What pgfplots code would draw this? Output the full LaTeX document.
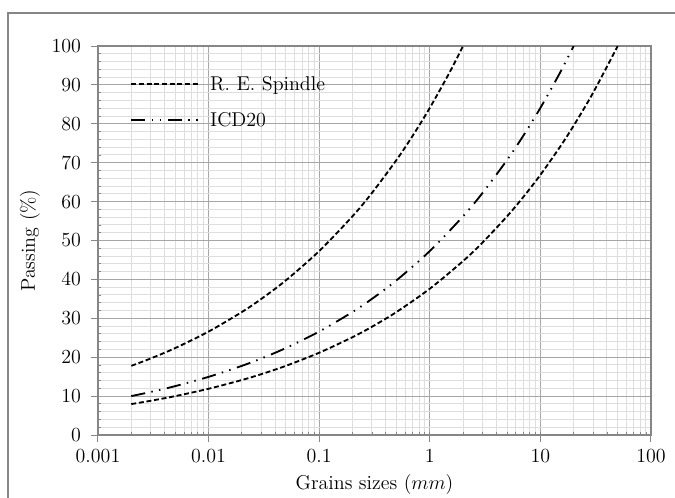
\documentclass[border=0pt]{standalone}
\usepackage{pgfplots}
\pgfplotsset{compat=1.18}
\definecolor{majgrid}{HTML}{A6A6A6}
\definecolor{mingrid}{HTML}{DEDEDE}
\definecolor{axgray}{HTML}{868686}
\begin{document}
\begin{tikzpicture}
\useasboundingbox (-58.8pt,-37.2pt) rectangle (346.2pt,261pt);
\draw[axgray, line width=0.7pt] (-54pt,-45pt) -- (-54pt,253.2pt) -- (360pt,253.2pt);
\begin{axis}[
 at={(0,0)}, anchor=south west,
 scale only axis, width=331.8pt, height=233.4pt,
 xmode=log, xmin=0.001, xmax=100, ymin=0, ymax=100,
 xtick={0.001,0.01,0.1,1,10,100},
 xticklabels={0.001,0.01,0.1,1,10,100},
 ytick={0,10,...,100},
 minor y tick num=4,
 grid=both,
 major grid style={majgrid, line width=0.6pt},
 minor grid style={mingrid, line width=0.6pt},
 axis line style={axgray, line width=0.7pt},
 major tick style={axgray, line width=0.6pt},
 minor tick style={axgray, line width=0.5pt},
 tick align=outside,
 major tick length=4.2pt,
 minor tick length=-2pt,
 tick pos=left,
 tick label style={font=\fontsize{12}{14}\selectfont, black},
 xticklabel style={yshift=-1pt},
 yticklabel style={xshift=-2.5pt},
 every axis x label/.style={at={(axis description cs:0.5,-0.1285)}, anchor=center, font=\fontsize{12}{14}\selectfont},
 every axis y label/.style={at={(axis description cs:-0.123,0.5)}, rotate=90, anchor=center, font=\fontsize{12}{14}\selectfont},
 xlabel={Grains sizes ($mm$)},
 ylabel={Passing (\%)},
 legend style={at={(0.058,0.932)}, anchor=north west, draw=none, fill=none, inner sep=0pt,
   row sep=7.6pt, font=\fontsize{12}{14}\selectfont, cells={anchor=west},
   /tikz/every odd column/.append style={column sep=3.8pt}},
 legend image code/.code={\draw[#1] (0pt,0pt) -- (41pt,0pt);},
]
\addplot[black, line width=1.1pt, dash pattern=on 3pt off 1.6pt, smooth] coordinates {
 (0.002,17.78) (0.003,19.68) (0.005,22.36) (0.01,26.59) (0.02,31.62) (0.03,35.00)
 (0.05,39.76) (0.1,47.29) (0.2,56.23) (0.3,62.23) (0.5,70.71) (0.7,76.92)
 (1,84.09) (1.5,93.06) (2,100)
};
\addlegendentry{R. E. Spindle}
\addplot[black, line width=1.1pt, dash pattern=on 8.5pt off 3.8pt on 0.9pt off 3.8pt on 0.9pt off 4pt, smooth] coordinates {
 (0.002,10.00) (0.003,11.07) (0.005,12.57) (0.01,14.95) (0.02,17.78) (0.03,19.68)
 (0.05,22.36) (0.1,26.59) (0.2,31.62) (0.3,35.00) (0.5,39.76) (1,47.29)
 (2,56.23) (3,62.23) (5,70.71) (7,76.92) (10,84.09) (15,93.06) (20,100)
};
\addlegendentry{ICD20}
\addplot[black, line width=1.1pt, dash pattern=on 3pt off 1.6pt, smooth, forget plot] coordinates {
 (0.002,7.95) (0.003,8.80) (0.005,10.00) (0.01,11.89) (0.02,14.14) (0.03,15.65)
 (0.05,17.78) (0.1,21.15) (0.2,25.15) (0.3,27.83) (0.5,31.62) (1,37.61)
 (2,44.72) (3,49.49) (5,56.23) (7,61.17) (10,66.87) (15,74.01) (20,79.53)
 (30,88.01) (50,100)
};
\end{axis}
\end{tikzpicture}
\end{document}
